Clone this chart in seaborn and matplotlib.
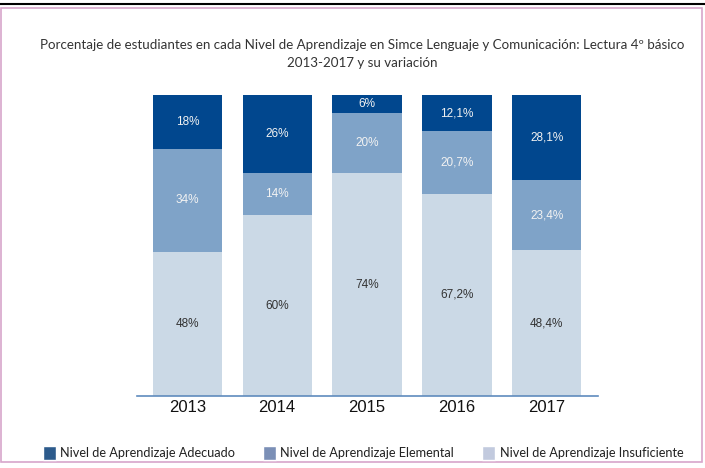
import numpy as np
import pandas as pd
import matplotlib
matplotlib.use("Agg")
import matplotlib.pyplot as plt
import seaborn as sns
from matplotlib.patches import Rectangle, Patch
from matplotlib.lines import Line2D

YEARS = ["2013", "2014", "2015", "2016", "2017"]
INSUFICIENTE = [48, 60, 74, 67.2, 48.4]
ELEMENTAL = [34, 14, 20, 20.7, 23.4]
ADECUADO = [18, 26, 6, 12.1, 28.1]
LBL_INSUF = ["48%", "60%", "74%", "67,2%", "48,4%"]
LBL_ELEM = ["34%", "14%", "20%", "20,7%", "23,4%"]
LBL_ADEC = ["18%", "26%", "6%", "12,1%", "28,1%"]

C_ADEC = "#01478e"
C_ELEM = "#7fa3c8"
C_INSUF = "#cbd9e6"

sns.set_theme(style="white")
plt.rcParams["font.family"] = ["Liberation Sans", "DejaVu Sans"]

df = pd.DataFrame({"year": YEARS, "insuf": INSUFICIENTE, "elem": ELEMENTAL, "adec": ADECUADO})
df["c1"] = df["insuf"]
df["c2"] = df["insuf"] + df["elem"]
df["c3"] = df["c2"] + df["adec"]

fig = plt.figure(figsize=(7.05, 4.68), dpi=100)
ax = fig.add_axes([137 / 705, 72 / 468, 461 / 705, 301 / 468])

for col, c in [("c3", C_ADEC), ("c2", C_ELEM), ("c1", C_INSUF)]:
    sns.barplot(data=df, x="year", y=col, color=c, width=0.77, saturation=1,
                linewidth=0, ax=ax)

for i in range(len(YEARS)):
    ax.text(i, df["insuf"][i] / 2, LBL_INSUF[i], ha="center", va="center", fontsize=8.5, color="#333333")
    ax.text(i, df["c1"][i] + df["elem"][i] / 2, LBL_ELEM[i], ha="center", va="center", fontsize=8.5, color="#f2f2f2")
    ax.text(i, df["c2"][i] + df["adec"][i] / 2, LBL_ADEC[i], ha="center", va="center", fontsize=8.5, color="#f2f2f2")

ax.set_xlim(-0.56, 4.57)
ax.set_ylim(0, 100)
ax.set_xlabel("")
ax.set_ylabel("")
ax.set_yticks([])
ax.tick_params(axis="x", length=0, labelsize=12, pad=3, labelcolor="#111111")
sns.despine(ax=ax, left=True)
ax.spines["bottom"].set_color("#5f8bbd")
ax.spines["bottom"].set_linewidth(1.2)

title_font = ["Lato", "DejaVu Sans"]
fig.text(362 / 705, 1 - 45 / 468, "Porcentaje de estudiantes en cada Nivel de Aprendizaje en Simce Lenguaje y Comunicación: Lectura 4º básico",
         ha="center", va="center", fontsize=9.65, color="#333333", family=title_font)
fig.text(362 / 705, 1 - 63 / 468, "2013-2017 y su variación",
         ha="center", va="center", fontsize=9.65, color="#333333", family=title_font)

handles = [Patch(facecolor="#2d5b8c", label="Nivel de Aprendizaje Adecuado"),
           Patch(facecolor="#7b8fb6", label="Nivel de Aprendizaje Elemental"),
           Patch(facecolor="#c2cade", label="Nivel de Aprendizaje Insuficiente")]
leg = fig.legend(handles=handles, loc="center", bbox_to_anchor=(363 / 705, 1 - 453 / 468), ncol=3,
                 frameon=False, handlelength=1.0, handleheight=1.3,
                 handletextpad=0.35, columnspacing=2.2, prop={"family": title_font, "size": 9.2})
for t in leg.get_texts():
    t.set_color("#222222")

# outer frame
fig.add_artist(Rectangle((1 / 705, 6 / 468), 701 / 705, 454 / 468, transform=fig.transFigure,
                         fill=False, edgecolor="#d7a6cb", linewidth=1.2))
fig.add_artist(Line2D([0, 1], [1 - 4 / 468, 1 - 4 / 468], transform=fig.transFigure,
                      color="black", linewidth=1.5))

fig.savefig("out.png", dpi=100)
